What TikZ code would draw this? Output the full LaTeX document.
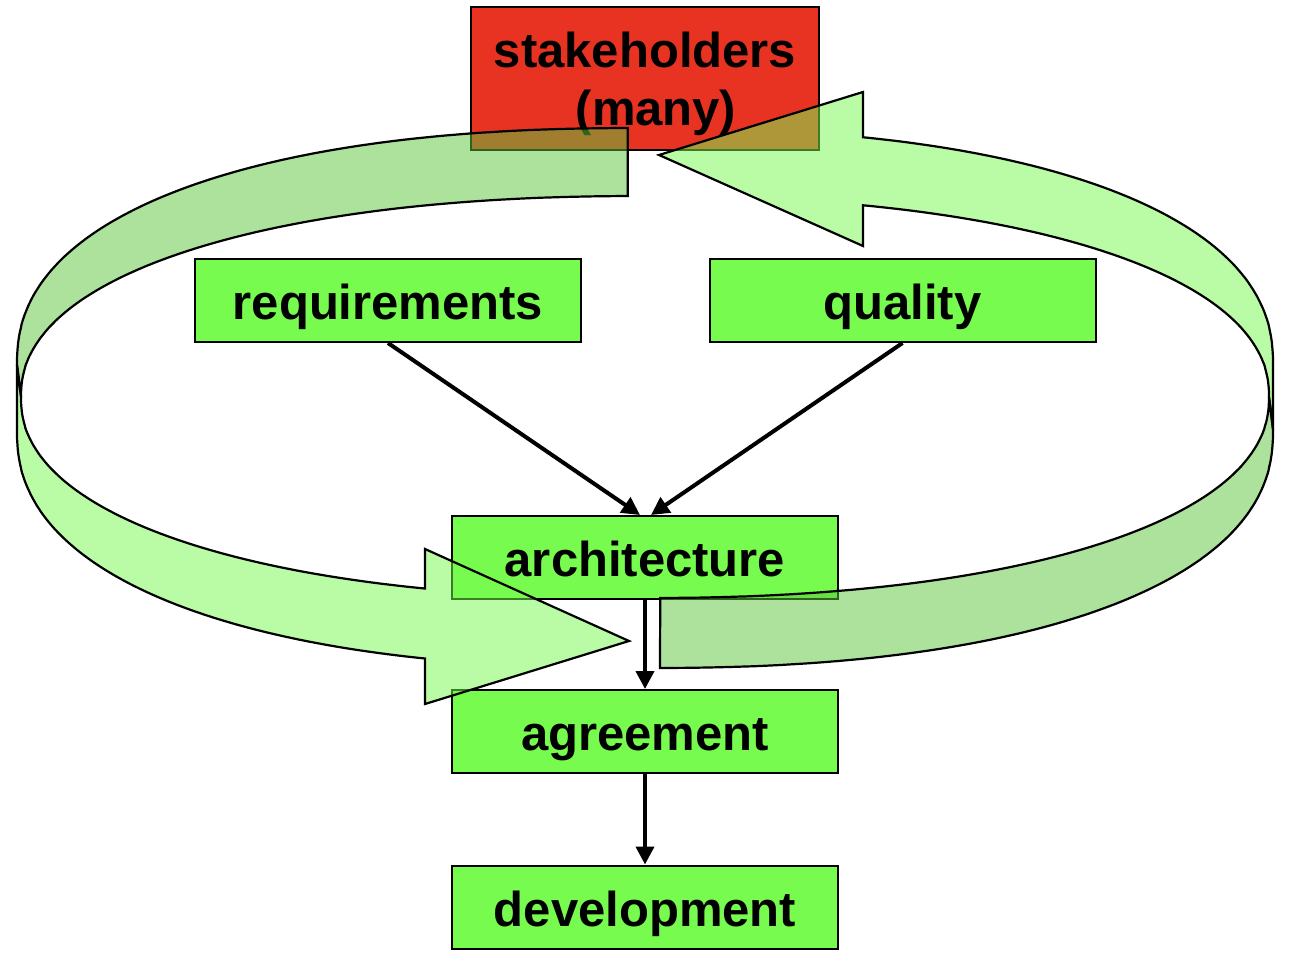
\documentclass[tikz,border=0pt]{standalone}
\usepackage{fontspec}
\setmainfont{Liberation Sans}
\usetikzlibrary{arrows.meta}
\definecolor{boxgreen}{RGB}{118,251,78}
\definecolor{shadegreen}{RGB}{91,199,59}
\definecolor{shred}{RGB}{232,51,35}
\begin{document}
\begin{tikzpicture}[x=1pt,y=-1pt,
  declare function={
    sc(\p,\q)=sign(cos(\p))*pow(abs(cos(\p))+0.00002,\q);
    ss(\p,\q)=sign(sin(\p))*pow(abs(sin(\p))+0.00002,\q);
  },
  box/.style={draw=black, line width=2pt, fill=boxgreen, minimum width=386pt,
    minimum height=83pt, inner sep=0pt, font=\fontsize{49}{58}\selectfont\bfseries,
    text height=45pt, text depth=7pt},
  conn/.style={draw=black, line width=4pt, -{Triangle[length=18pt,width=18pt]}},
  band/.style={draw=black, line width=2.2pt, fill opacity=0.5, line join=miter},
  bandlight/.style={band, fill=boxgreen},
  banddark/.style={band, fill=shadegreen},
]
\useasboundingbox (0,0) rectangle (1304,965);
\fill[white] (0,0) rectangle (1304,965);

% boxes
\node[box, fill=shred, minimum width=348pt, minimum height=143pt, text depth=66pt]
  (stake) at (645,78.5) {\begin{tabular}[t]{@{}c@{}}stakeholders\\\hspace*{22pt}(many)\end{tabular}};
\node[box] (req)  at (388,300.5) {requirements};
\node[box] (qual) at (902.5,300.5) {quality};
\node[box] (arch) at (645,557.5) {architecture};
\node[box] (agr)  at (645,731.5) {agreement};
\node[box] (dev)  at (645,907) {development};

% connectors
\draw[conn] (req.south) -- ([xshift=-5pt]arch.north);
\draw[conn] (qual.south) -- ([xshift=6pt]arch.north);
\draw[conn] (arch.south) -- (agr.north);
\draw[conn] (agr.south) -- (dev.north);

% ribbon: upper-left (back, darker)
\draw[banddark]
  plot[domain=90.9:180,samples=120] ({645+628*sc(\x,0.8696)},{365-237*ss(\x,0.8696)})
  -- plot[domain=180:91.09,samples=120] ({645+624*sc(\x,0.909)},{397-201*ss(\x,0.909)})
  -- cycle;
% ribbon: lower-left (front, arrow to the right)
\draw[bandlight] (17,365)
  -- plot[domain=180:252.58,samples=120] ({645+628*sc(\x,0.8696)},{430-238*ss(\x,0.8696)})
  -- (425,704) -- (629,641) -- (425,549)
  -- plot[domain=251.48:180,samples=120] ({645+624*sc(\x,0.909)},{397-201*ss(\x,0.909)})
  -- cycle;
% ribbon: upper-right (front, arrow to the left)
\draw[bandlight]
  plot[domain=72.77:0,samples=120] ({645+628*sc(\x,0.8696)},{365-237*ss(\x,0.8696)})
  -- (1273,430)
  -- plot[domain=0:71.67,samples=120] ({645+624*sc(\x,0.909)},{397-201*ss(\x,0.909)})
  -- (863,246) -- (659,155) -- (863,92) -- cycle;
% ribbon: lower-right (back, darker)
\draw[banddark] (1273,430)
  -- plot[domain=360:270.78,samples=120] ({645+628*sc(\x,0.8696)},{430-238*ss(\x,0.8696)})
  -- plot[domain=270.95:360,samples=120] ({645+624*sc(\x,0.909)},{397-201*ss(\x,0.909)})
  -- cycle;
\end{tikzpicture}
\end{document}
